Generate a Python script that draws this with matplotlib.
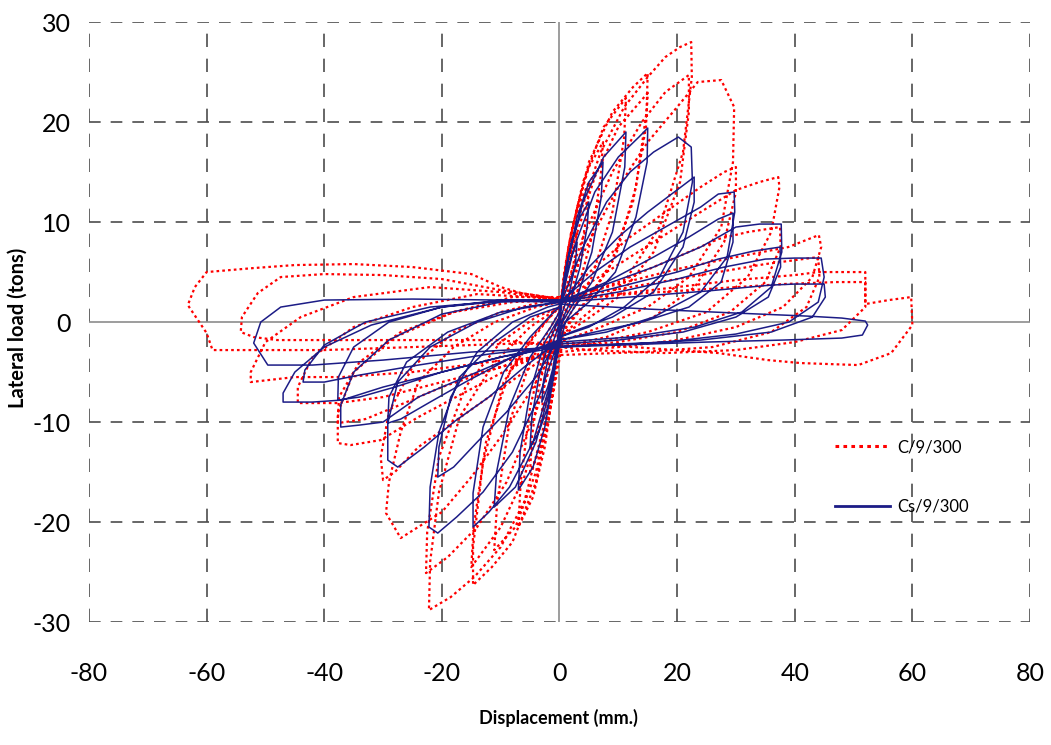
import numpy as np
import matplotlib
matplotlib.use("Agg")
import matplotlib.pyplot as plt

plt.rcParams['axes.unicode_minus'] = False
FONT = ['Lato', 'DejaVu Sans']

# C/9/300 : displacement (mm) and lateral load (tons), one list per cycle
c_disp = [
    [0, 0.5, 1.2, 2, 3, 2.6, 1.6, 0.5, 0, -0.5, -1.2, -2, -3, -2.6, -1.6, -0.5, 0],
    [0, 0.8, 2, 3.5, 5, 4.7, 3.5, 1.8, 0.3, -0.8, -2, -3.5, -5, -4.7, -3.5, -1.8, -0.3],
    [0, 1.2, 3, 5, 7.4, 7, 5.5, 3, 0.5, -1, -2.5, -4.5, -7, -6.6, -5, -2.5, 0],
    [0, 1.5, 4, 7.5, 11.3, 11, 9, 5.5, 2, 0, -1.5, -4, -7.5, -11.1, -10.6, -8.5, -5, -1.5, 0],
    [0, 2, 5, 9, 12.5, 15, 14.8, 13, 9.5, 5, 1, -1.5, -4, -8, -11.5, -14.7, -14.7, -13, -9.5, -5, -1],
    [0, 2.5, 6, 10, 15, 14.7, 12.5, 8.5, 4, 0.5, -2.5, -6, -10, -15, -14.6, -12.5, -8.5, -4, 0],
    [0, 3, 7, 11, 15, 18, 20.5, 22.4, 22.5, 21, 17, 11, 5, 0, -2.5, -6, -10, -14.5, -18.5, -22.2,
     -22, -20.5, -17, -11, -5, 0],
    [0, 4, 9, 14, 18, 22, 22, 20.5, 16, 10, 4, 0, -4, -9, -14, -19, -22.7, -22.5, -20.5, -16, -10, -4, 0],
    [0, 5, 10, 15, 20, 23.5, 27.5, 29.7, 29.5, 27.5, 22, 15, 7, 0, -5, -10, -15, -20, -27, -29.5,
     -29, -27, -24, -18, -11, -4, 0],
    [0, 6, 12, 18, 24, 28, 30, 30, 28, 23, 16, 8, 0, -6, -12, -18, -24, -28, -30, -30.4,
     -29, -25, -18, -10, -3, 0],
    [0, 8, 16, 24, 30, 34, 37.2, 37.4, 36, 32, 25, 15, 5, 0, -8, -16, -24, -30.4, -35.5, -37.7,
     -37.7, -35, -28, -18, -8, 0],
    [0, 10, 20, 27, 32, 37.5, 37.6, 35, 29, 20, 10, 0, -10, -20, -28, -33, -37.7, -37.5, -34, -27,
     -18, -8, 0],
    [0, 10, 20, 30, 38.9, 44.1, 44.5, 43, 38, 30, 20, 10, 0, -10, -20, -30, -37.7, -44.5, -44.5,
     -42, -35, -25, -14, -5, 0],
    [0, 12, 25, 35, 44, 44.2, 42, 36, 26, 14, 0, -12, -25, -37, -45, -52.5, -52.5, -50, -44, -35,
     -22, -10, 0],
    [0, 12, 25, 38, 47, 52, 52, 48, 40, 30, 18, 5, 0, -10, -20, -30, -40, -48, -52, -54.2, -54,
     -51.3, -47.4, -40, -30, -20, -10, 0],
    [0, 10, 20, 30, 40, 44, 52, 52, 56, 59.8, 60, 56.4, 50.8, 41, 35.4, 27, 15, 5, 0, -10, -25,
     -40, -50, -59, -60, -63.2, -62, -60, -52, -45, -35, -25, -15, -10, -6.5, -2, 0],
]
c_load = [
    [0, 3, 5.5, 7.5, 9, 6.5, 3.5, 1, 0, -3, -5.5, -7.5, -9, -6.5, -3.5, -1, 0],
    [0.5, 5, 9, 12, 14, 11, 6.5, 2.5, 0, -5, -9.5, -13, -15, -11.5, -6.5, -2.5, 0],
    [0.5, 6, 11.5, 15.5, 18, 14.5, 8.5, 3, 0, -6.5, -12.5, -17.5, -20.5, -16, -8.5, -2.5, 0.5],
    [1, 7.5, 14, 19.5, 22.4, 18.5, 11, 4.5, 1, -1, -8, -15, -20.5, -22.8, -18, -10, -4, -0.5, 1],
    [1.5, 9, 16, 21, 23.5, 24.9, 21, 13.5, 6.5, 2.5, -0.5, -8.5, -16, -22, -24.5, -26.3, -22.5,
     -14, -6, -2, 1],
    [1.5, 8, 14.5, 19.5, 22.9, 19.5, 12, 5.5, 1.5, -1, -8.5, -15.5, -20.5, -24.5, -20.5, -12, -5,
     -1, 1.5],
    [1.5, 10, 17, 21.5, 24.5, 26.5, 27.5, 28, 24.5, 17, 9.5, 4, 1, -1.5, -10, -18, -22.5, -25.5,
     -27.5, -28.8, -24, -17, -9.5, -4, -0.5, 1.5],
    [1.5, 8.5, 15, 20, 23, 24.7, 21, 14, 7, 2.5, 0, -1.5, -9, -16, -20.5, -23.5, -25.1, -21, -13.5,
     -6.5, -2, 0.5, 1.5],
    [2, 8, 13.5, 18, 21.5, 24, 24.2, 21.5, 16, 9.5, 4.5, 1.5, -0.5, -2, -7, -11.5, -15.5, -19,
     -21.6, -19.1, -16, -11, -6, -2.5, 0, 1.5, 2],
    [2, 5.5, 8.5, 11, 13.5, 15, 15.5, 13, 8, 3.5, 0.5, -1.5, -2.5, -5, -7.5, -10, -12.5, -15, -15.8,
     -13.5, -9, -4.5, -1, 1, 2, 2.5],
    [2, 5, 8, 11, 13.2, 14, 14.5, 13.5, 9, 4.5, 1, -1, -2.2, -2.5, -4.5, -7, -9.5, -11.8, -12.3,
     -12.1, -9.1, -5, -1.5, 1, 2.5, 2.5],
    [2, 4, 6.5, 8.3, 9, 9.5, 7.5, 4, 1, -1, -2, -2.5, -4.5, -6.5, -8.5, -9.7, -10.1, -7.5, -4, -1,
     1, 2, 2.2],
    [2.2, 3.8, 5.3, 6.5, 7.5, 8.7, 7.5, 4.5, 1.5, -0.5, -1.8, -2.5, -3, -4.5, -6, -7.5, -8.1, -8.1,
     -6.5, -3.5, -0.5, 1.5, 2.8, 2.5, 2.2],
    [2.2, 3.5, 4.8, 5.8, 6.5, 4.5, 1.5, -1, -2.5, -3, -3.3, -4, -5, -5.5, -5.5, -6, -5, -2, 0.5,
     2.5, 3.5, 3, 2.2],
    [2.2, 2.8, 3.3, 3.8, 4, 4, 1.5, -0.8, -2, -2.8, -3.1, -2.8, -2.5, -1.8, -1.8, -1.8, -1.8, -1.8,
     -1.5, -1, 0.5, 2.9, 4.5, 4.8, 4.7, 4.3, 3.2, 2.3],
    [2.2, 2.8, 3.5, 4.2, 4.7, 5, 5, 1.8, 2.2, 2.5, -0.3, -3.1, -4.3, -4.1, -3.8, -3.1, -2.6, -2.2,
     -2, -2.2, -2.5, -2.8, -2.8, -2.8, -1.1, 1.7, 3.5, 5, 5.4, 5.7, 5.8, 5.5, 4.8, 3.5, 2.9, 2.5, 2.2],
]

# Cs/9/300
cs_disp = [
    [0, 0.5, 1.2, 2, 3, 2.7, 1.7, 0.5, 0, -0.5, -1.2, -2, -3, -2.7, -1.7, -0.5, 0],
    [0, 0.8, 2, 3.5, 5, 4.7, 3.5, 1.8, 0.3, -0.8, -2, -3.5, -5, -4.7, -3.5, -1.8, -0.3],
    [0, 1.2, 3, 5, 7.4, 7.1, 5.5, 3, 0.5, -1, -2.5, -4.5, -7, -6.7, -5, -2.5, 0],
    [0, 1.5, 4, 7.5, 11.3, 11.1, 9, 5.5, 2, 0, -1.5, -4, -7.5, -11.1, -10.7, -8.5, -5, -1.5, 0],
    [0, 2.5, 6, 10, 13.5, 15, 14.9, 13, 9.5, 5, 1, -1.5, -4.5, -8.5, -12, -14.7, -14.7, -13, -9.5,
     -5, -1],
    [0, 4, 8, 12, 16, 20.2, 22.4, 22.6, 21, 17, 11, 5, 0, -3.5, -8, -13, -17.5, -20.7, -22.2, -22,
     -20.5, -17, -11, -5, 0],
    [0, 5, 10, 15, 19.5, 22.9, 22.9, 21, 16, 9, 2, 0, -4, -9, -14, -18, -20.7, -20.5, -18.5, -14,
     -8, -2, 0],
    [0, 6, 12, 18, 24, 27, 29.7, 29.8, 28.5, 24, 16, 8, 0, -6, -12, -18, -23, -27.5, -29.2, -29.2,
     -27.5, -22, -14, -6, 0],
    [0, 8, 16, 22, 27, 29.5, 29.5, 27.5, 22, 14, 6, 0, -8, -16, -22, -27, -29.2, -29, -26, -19, -10, 0],
    [0, 8, 16, 24, 30, 34, 37.7, 37.8, 36, 31, 23, 12, 0, -8, -16, -24, -30, -34, -37.2, -37.2, -35,
     -29, -20, -10, 0],
    [0, 10, 20, 27, 33, 37.5, 37.6, 35.5, 30, 21, 10, 0, -10, -20, -28, -34, -37.7, -37.6, -35, -29,
     -20, -10, 0],
    [0, 10, 20, 28, 35, 40, 44.5, 45, 44, 39, 30, 18, 6, 0, -10, -20, -30, -37, -42, -47, -47, -45,
     -40, -32, -20, -8, 0],
    [0, 12, 25, 36, 40, 45, 45.2, 43, 36, 24, 12, 0, -12, -24, -34, -40, -43.6, -43.3, -40, -33,
     -22, -10, 0],
    [0, 15, 30, 42, 48, 52, 52.4, 51.5, 48, 38, 25, 10, 0, -15, -30, -42, -49.6, -52, -50.8, -47.4,
     -40, -25, -10, 0],
]
cs_load = [
    [0, 2.5, 4.8, 6.5, 8, 5.8, 3, 1, 0, -2.5, -4.8, -6.5, -8, -5.8, -3, -1, 0],
    [0.5, 4.5, 8, 10.5, 12, 9.5, 5.5, 2, 0, -4.5, -8.5, -11, -12.5, -9.5, -5.5, -2, 0],
    [0.5, 5.5, 10.5, 14, 16, 12.5, 7, 2.5, 0, -5.5, -10.5, -14.5, -16.8, -13, -7, -2, 0.5],
    [1, 6.5, 12, 16.5, 19, 15.5, 9, 4, 1, -1, -6.5, -12, -16.5, -18.5, -15, -8.5, -3.5, -0.5, 1],
    [1.5, 7.5, 13, 16.5, 18.5, 19.4, 16, 10.5, 5, 2, 0, -6, -12, -16.5, -19, -20.5, -17.1, -10.5,
     -5, -1.5, 1],
    [1.5, 7.5, 12, 15, 17, 18.5, 17.5, 14, 9, 4.5, 1.5, -0.5, -1.5, -7.5, -13, -17, -19.5, -21.1,
     -20.5, -16.5, -11, -5.5, -2, 0.5, 1.5],
    [1.5, 5.5, 8.5, 11, 13, 14.5, 12, 7.5, 3, 0.5, -1, -1.5, -5.5, -9, -12, -14.5, -15.5, -12.5,
     -7.5, -3, 0, 1.5, 1.8],
    [2, 5, 7.5, 9.5, 11.5, 12.8, 13, 11, 6.5, 3, 0.5, -1, -1.8, -4.5, -7.5, -10, -12.5, -14.5,
     -13.8, -10.1, -6, -2.5, 0, 1.5, 2],
    [2, 4, 6.5, 8.5, 10.3, 10.9, 8, 4, 1.5, 0, -1, -1.8, -3.5, -6, -8, -9.7, -10.1, -7.5, -4, -1, 1, 2],
    [2, 3.8, 5.5, 7.5, 9.5, 9.8, 9.8, 7, 3.5, 1, -0.5, -1.5, -2, -3.5, -5.5, -7.5, -10, -10.3,
     -10.5, -8.3, -5, -1.8, 0.8, 2, 2.2],
    [2, 3.5, 5, 6.3, 7.1, 7.5, 5.5, 2.5, 0.5, -1, -1.8, -2.2, -3.5, -5, -6.5, -7.5, -7.8, -5.5,
     -2.5, 0, 1.5, 2.2, 2.2],
    [2, 3, 4.3, 5.5, 6.3, 6.4, 6.4, 4.5, 2, 0, -1.2, -2, -2.3, -2.5, -3.5, -5, -6.5, -7.8, -8, -8,
     -7.1, -5, -2.5, -0.3, 1.5, 2.2, 2.2],
    [2, 2.5, 3.1, 3.7, 3.8, 3.8, 2.5, 0.5, -1, -1.8, -2.2, -2.4, -3.2, -4.3, -5.3, -6, -6, -4.8,
     -2.3, 0, 1.5, 2.1, 2],
    [1.8, 1.3, 0.9, 0.6, 0.4, 0.1, -0.3, -1.3, -1.6, -1.8, -2, -2.3, -2.5, -3, -3.8, -4.3, -4.3,
     -2.1, 0, 1.5, 2.2, 2.3, 2.2, 2.1],
]

x_ticks = [-80, -60, -40, -20, 0, 20, 40, 60, 80]
y_ticks = [-30, -20, -10, 0, 10, 20, 30]


def join(cycles_x, cycles_y):
    xs, ys = [], []
    for cx, cy in zip(cycles_x, cycles_y):
        if len(cx) != len(cy):
            raise ValueError("cycle length mismatch %d %d" % (len(cx), len(cy)))
        xs += cx
        ys += cy
    return np.array(xs), np.array(ys)


fig = plt.figure(figsize=(10.51, 7.45), dpi=100)
ax = fig.add_axes([0.0847, 0.165, 0.8953, 0.8054])

# dashed grid, solid zero lines
for t in x_ticks:
    if t != 0:
        ax.axvline(t, color='#4d4d4d', lw=1.2, ls=(0, (8, 7)), zorder=1)
for t in y_ticks:
    if t != 0:
        ax.axhline(t, color='#4d4d4d', lw=1.2, ls=(0, (7, 6)), zorder=1)
ax.axhline(0, color='#8c8c8c', lw=1.2, zorder=1)
ax.axvline(0, color='#8c8c8c', lw=1.2, zorder=1)

rx, ry = join(c_disp, c_load)
bx, by = join(cs_disp, cs_load)
ax.plot(rx, ry, color='#ff0000', lw=1.6, ls=(0, (1.2, 1.4)), label='C/9/300', zorder=2)
ax.plot(bx, by, color='#1c1c86', lw=1.1, label='Cs/9/300', zorder=3)

ax.set_xlim(-80, 80)
ax.set_ylim(-30, 30)
ax.set_xticks(x_ticks)
ax.set_yticks(y_ticks)
for s in ax.spines.values():
    s.set_visible(False)
ax.tick_params(axis='x', length=0, pad=29, labelsize=18)
ax.tick_params(axis='y', length=0, pad=13, labelsize=18)
for lab in ax.get_xticklabels() + ax.get_yticklabels():
    lab.set_family(FONT)

fig.text(558 / 1051, 1 - 718 / 745, 'Displacement (mm.)', ha='center', va='center',
         fontsize=13, fontweight='bold', family=FONT)
fig.text(18 / 1051, 1 - 328 / 745, 'Lateral load (tons)', ha='center', va='center',
         rotation=90, fontsize=14.5, fontweight='bold', family=FONT)

leg = ax.legend(loc='center left', bbox_to_anchor=(0.793, 0.242), frameon=False,
                handlelength=3.3, handletextpad=0.4, labelspacing=2.6, borderpad=0,
                borderaxespad=0, prop={'family': FONT, 'size': 12})
leg.get_lines()[0].set_linewidth(2.2)
leg.get_lines()[1].set_linewidth(2.0)

fig.savefig('out.png', dpi=100)
